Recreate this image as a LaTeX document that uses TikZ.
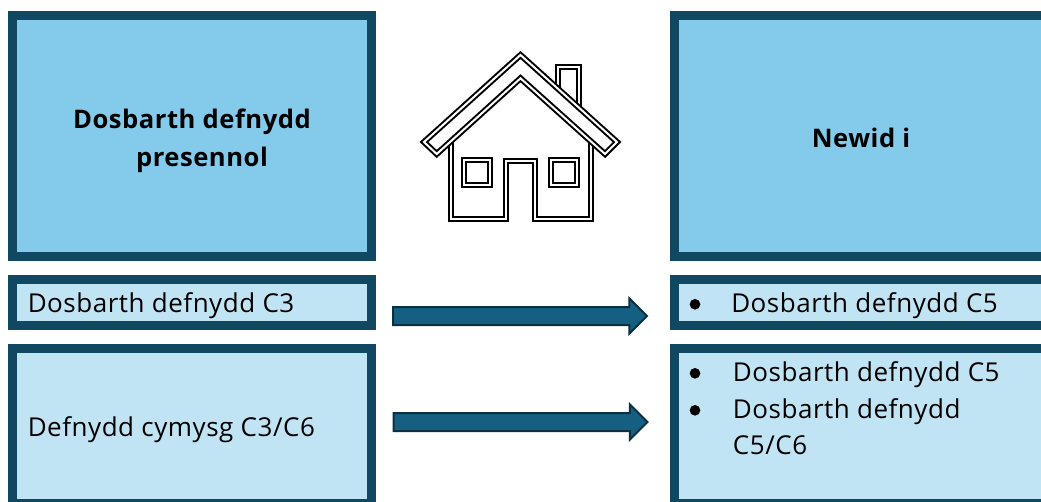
\documentclass[tikz,border=0pt]{standalone}
\usepackage{fontspec}
\setmainfont[LetterSpace=2]{Open Sans}
\usetikzlibrary{shapes.arrows}
\definecolor{framecol}{HTML}{104862}
\definecolor{headcol}{HTML}{83CAEB}
\definecolor{rowcol}{HTML}{C1E4F5}
\definecolor{arrowcol}{HTML}{156082}
\definecolor{arrowline}{HTML}{0B3041}
\tikzset{
  box/.style={draw=framecol,line width=6.75pt,inner sep=0pt,outer sep=0pt,anchor=north west},
  headbox/.style={box,fill=headcol},
  rowbox/.style={box,fill=rowcol},
  label/.style={inner sep=0pt,anchor=base west,font=\fontsize{19.5}{23}\selectfont},
  headlabel/.style={inner sep=0pt,anchor=base,font=\fontsize{19.2}{23}\selectfont\bfseries},
  dot/.style={circle,fill=black,inner sep=0pt,minimum size=8pt},
  blockarrow/.style={single arrow,draw=arrowline,fill=arrowcol,line width=1.5pt,inner sep=0pt,
    text height=12pt,text depth=0pt,text width=0pt,
    minimum height=190.5pt,single arrow head extend=6.4pt,single arrow tip angle=90},
  houseline/.style={draw=black,line width=1.5pt,double=white,double distance=1.5pt,miter limit=10}
}
\begin{document}
\begin{tikzpicture}[x=0.75pt,y=-0.75pt]
\useasboundingbox (0,0) rectangle (1041,501);
\begin{scope}
\clip (0,0) rectangle (1041,501);
\node[headbox,minimum width=269.25pt,minimum height=180.75pt] (curbox) at (12.5,15.5) {};
\node[headbox,minimum width=285pt,minimum height=180.75pt] (newbox) at (674.5,15.5) {};
\node[rowbox,minimum width=269.25pt,minimum height=34.5pt] (curone) at (12.5,279.5) {};
\node[rowbox,minimum width=285pt,minimum height=34.5pt] (newone) at (674.5,279.5) {};
\node[rowbox,minimum width=269.25pt,minimum height=116.25pt] (curtwo) at (12.5,348.5) {};
\node[rowbox,minimum width=285pt,minimum height=116.25pt] (newtwo) at (674.5,348.5) {};
\end{scope}
\node[headlabel] (curtitle) at (192,128) {Dosbarth defnydd};
\node[headlabel] (curtitleb) at (202,166) {presennol};
\node[headlabel] (newtitle) at (861,147) {Newid i};
\node[label] (curtxt) at (27.5,312.7) {Dosbarth defnydd C3};
\node[label] (mixtxt) at (27.5,436) {Defnydd cymysg C3/C6};
\node[dot] (dota) at (695,304.3) {};
\node[label] (newtxt) at (731,312.7) {Dosbarth defnydd C5};
\node[dot] (dotb) at (695,373.3) {};
\node[label] (newtxtb) at (732.7,381.7) {Dosbarth defnydd C5};
\node[dot] (dotc) at (695,410.3) {};
\node[label] (newtxtc) at (732.7,418.7) {Dosbarth defnydd};
\node[label] (newtxtd) at (732.7,454.3) {C5/C6};
\node[blockarrow] (arrowa) at (515.5,316) {};
\node[blockarrow] (arrowb) at (516,422) {};
% house
\coordinate (apex) at (520.5,55);
\coordinate (roofl) at (424,142);
\coordinate (roofm) at (436.7,154);
\coordinate (inner) at (520.5,78.3);
\coordinate (roofn) at (605,154);
\coordinate (roofr) at (617,142);
\draw[houseline] (558.3,95)--(558.3,66.7)--(579.3,66.7)--(579.3,115);
\draw[houseline] (450.7,135)--(450.7,218.7)--(506,218.7)--(506,160.7)--(535,160.7)--(535,218.7)--(590.7,218.7)--(590.7,135);
\draw[houseline] (463.7,160.3) rectangle (490.3,184.7);
\draw[houseline] (551,160.3) rectangle (577.3,184.7);
\draw[houseline,fill=white] (apex)--(roofl)--(roofm)--(inner)--(roofn)--(roofr)--cycle;
\end{tikzpicture}
\end{document}
